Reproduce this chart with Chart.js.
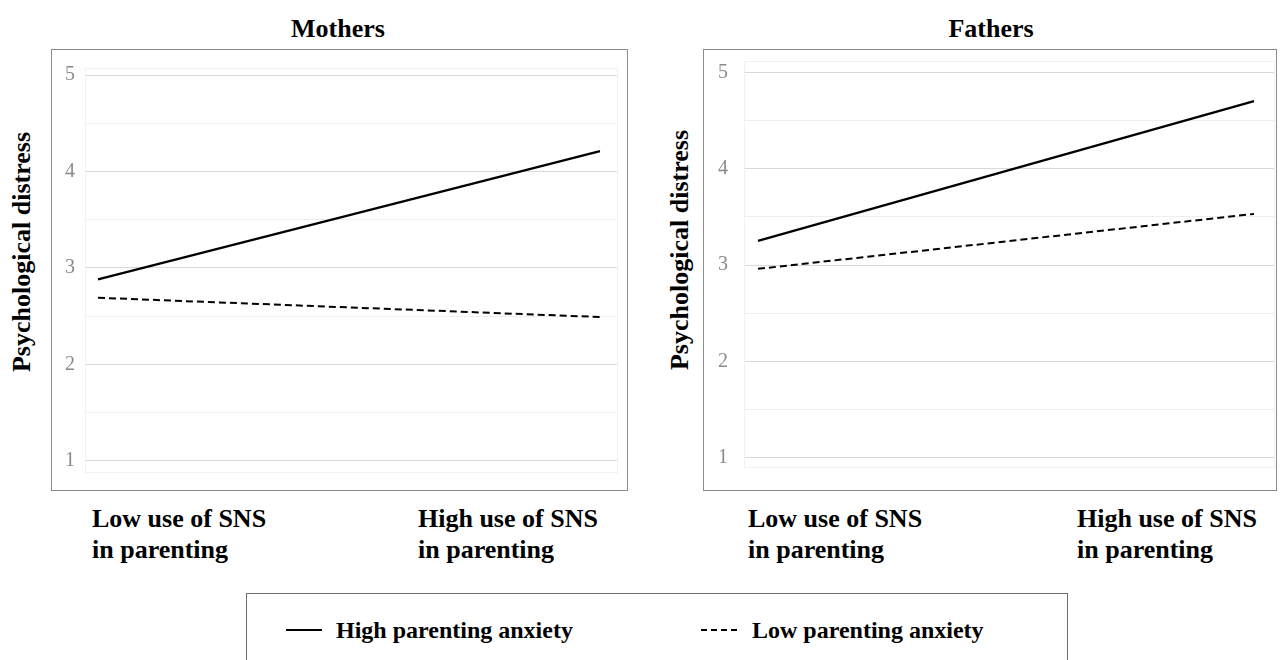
<!DOCTYPE html>
<html><head><meta charset="utf-8">
<script src="https://cdn.jsdelivr.net/npm/chart.js@4.4.1/dist/chart.umd.min.js"></script>
<style>
body{margin:0;background:#fff;width:1280px;height:660px;overflow:hidden;position:relative;font-family:"Liberation Serif","Times New Roman",serif;}
.box{position:absolute;border:1px solid #8c8c8c;box-sizing:border-box;}
.t{position:absolute;font-weight:bold;color:#000;white-space:nowrap;line-height:1;}
.title{font-size:26px;transform:translateX(-50%);}
.ytitle{font-size:26px;transform:translate(-50%,-50%) rotate(-90deg);}
.xl{font-size:26px;line-height:31px;white-space:pre;}
canvas{position:absolute;}
.legend{position:absolute;left:246px;top:593px;width:822px;height:80px;border:1px solid #6e6e6e;box-sizing:border-box;}
.lg{position:absolute;font-size:24px;font-weight:bold;top:630px;transform:translateY(-50%);line-height:1;}
.sample{position:absolute;top:629px;height:0;}
</style>
</head><body>
<script>
// ---- data ----
const panels = ['Mothers', 'Fathers'];
const categories = ['Low use of SNS\nin parenting', 'High use of SNS\nin parenting'];
const seriesNames = ['High parenting anxiety', 'Low parenting anxiety'];
const mothersHigh = [2.88, 4.21];
const mothersLow = [2.69, 2.49];
const fathersHigh = [3.25, 4.70];
const fathersLow = [2.96, 3.53];
const yTickLabels = [1, 2, 3, 4, 5];
const yGridValues = [1, 1.5, 2, 2.5, 3, 3.5, 4, 4.5, 5];
const yAxisTitle = 'Psychological distress';
</script>
<div class="box" style="left:51px;top:49px;width:577px;height:442px;"></div>
<div class="box" style="left:703px;top:49px;width:574px;height:442px;"></div>
<canvas id="cM" width="574" height="439" style="left:52px;top:50px;"></canvas>
<canvas id="cF" width="571" height="439" style="left:704px;top:50px;"></canvas>
<div class="legend"></div>
<div id="texts"></div>
<script>
const T = document.getElementById('texts');
function addText(cls, txt, style){ const d=document.createElement('div'); d.className='t '+cls; d.textContent=txt; d.setAttribute('style',style); T.appendChild(d); return d; }
addText('title', panels[0], 'left:338px;top:16px;');
addText('title', panels[1], 'left:991px;top:16px;');
addText('ytitle', yAxisTitle, 'left:22px;top:252px;');
addText('ytitle', yAxisTitle, 'left:680px;top:250px;');
addText('xl', categories[0], 'left:92px;top:503px;');
addText('xl', categories[1], 'left:418px;top:503px;');
addText('xl', categories[0], 'left:748px;top:503px;');
addText('xl', categories[1], 'left:1077px;top:503px;');
// legend
const s1=document.createElement('div'); s1.className='sample'; s1.setAttribute('style','left:286px;width:36px;border-top:2.5px solid #000;'); document.body.appendChild(s1);
const s2=document.createElement('div'); s2.className='sample'; s2.setAttribute('style','left:701px;width:36px;border-top:2px dashed #000;'); document.body.appendChild(s2);
addText('lg', seriesNames[0], 'left:336px;');
addText('lg', seriesNames[1], 'left:752px;');

const faintFrame = {
  id:'faintFrame',
  beforeDatasetsDraw(chart){
    const a=chart.chartArea, c=chart.ctx;
    c.save(); c.strokeStyle='#f1f1f1'; c.lineWidth=1;
    c.strokeRect(Math.round(a.left)+0.5, Math.round(a.top)+0.5, Math.round(a.right-a.left), Math.round(a.bottom-a.top));
    c.restore();
  }
};

function makeChart(id, high, low, cfg){
  const pts = arr => arr.map((v,i)=>({x:i, y:v}));
  return new Chart(document.getElementById(id), {
    type:'line',
    data:{datasets:[
      {label:seriesNames[0], data:pts(high), borderColor:'#000', borderWidth:2.25, pointRadius:0, fill:false, tension:0},
      {label:seriesNames[1], data:pts(low), borderColor:'#000', borderWidth:2, borderDash:[7,4], pointRadius:0, fill:false, tension:0}
    ]},
    options:{
      responsive:false, animation:false, devicePixelRatio:1,
      layout:{padding:cfg.pad},
      plugins:{legend:{display:false}, tooltip:{enabled:false}},
      scales:{
        x:{type:'linear', min:cfg.xmin, max:cfg.xmax, display:false},
        y:{min:cfg.ymin, max:cfg.ymax,
           afterFit:s=>{s.width=cfg.yw; s.paddingTop=0; s.paddingBottom=0;},
           afterBuildTicks:s=>{s.ticks=yGridValues.map(v=>({value:v}));},
           ticks:{callback:v=>yTickLabels.includes(v)?String(v):'', color:'#8a8a8a', padding:cfg.tp,
                  font:{family:'"Liberation Serif", serif', size:20}},
           grid:{drawTicks:false, lineWidth:1, color:ctx=>Number.isInteger(ctx.tick && ctx.tick.value)?'#d9d9d9':'#eeeeee'},
           border:{display:false}
        }
      }
    },
    plugins:[faintFrame]
  });
}
makeChart('cM', mothersHigh, mothersLow, {pad:{top:17.7,bottom:17.3,right:9,left:0}, xmin:-0.0259, xmax:1.0339, ymin:0.886, ymax:5.076, yw:33, tp:10});
makeChart('cF', fathersHigh, fathersLow, {pad:{top:10.7,bottom:22.3,right:1,left:0}, xmin:-0.0282, xmax:1.0403, ymin:0.907, ymax:5.12, yw:40, tp:16});
</script>
</body></html>
